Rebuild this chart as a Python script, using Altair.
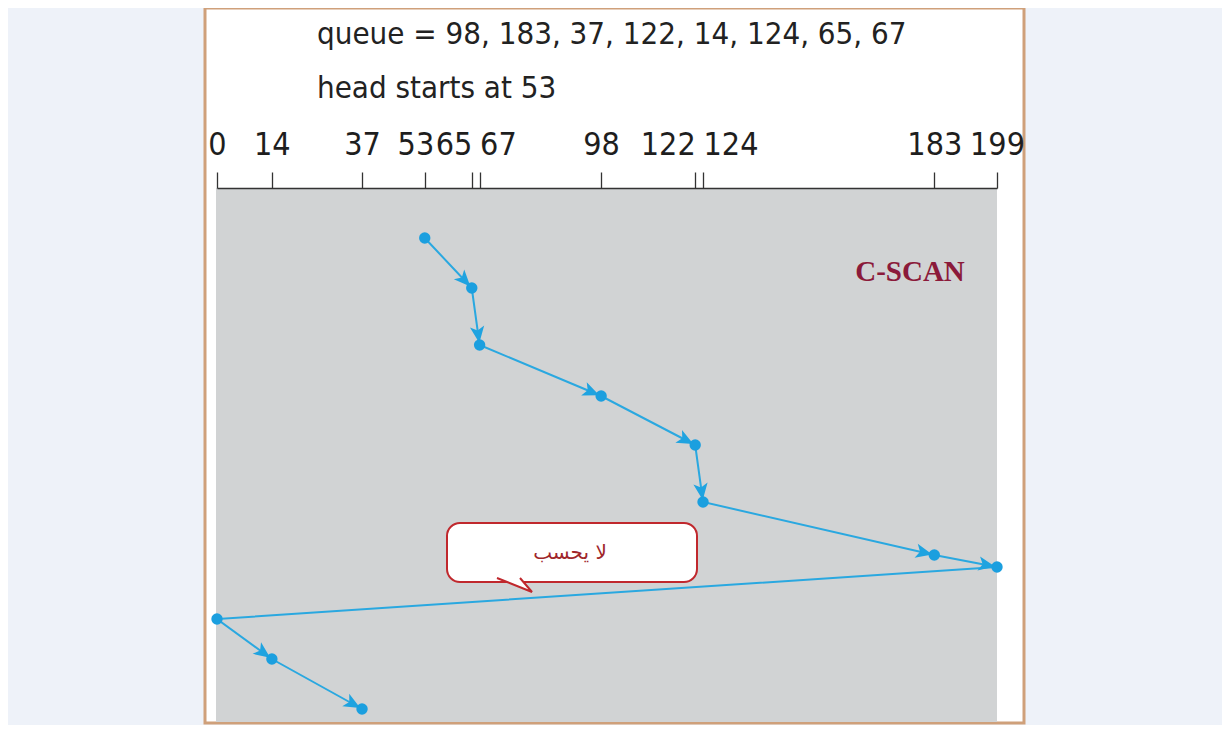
import math
import altair as alt
import pandas as pd

# ---- data ----
queue = [98, 183, 37, 122, 14, 124, 65, 67]
head_start = 53
visit_order = [53, 65, 67, 98, 122, 124, 183, 199, 0, 14, 37]
visit_time = [50, 100, 157, 208, 257, 314, 367, 379, 431, 471, 521]
arrow_on_segment = [1, 1, 1, 1, 1, 1, 1, 0, 1, 1]
tick_values = [0, 14, 37, 53, 65, 67, 98, 122, 124, 183, 199]
right_aligned_ticks = [53, 65, 122]
left_aligned_ticks = [67, 124]
algo_label = "C-SCAN"
note_label = "لا يحسب"

W, H = 780, 537
XMAX, YMAX = 199, 537

path_df = pd.DataFrame({"cyl": visit_order, "t": visit_time, "step": list(range(len(visit_order)))})

rows = []
for i in range(1, len(visit_order)):
    if not arrow_on_segment[i - 1]:
        continue
    x1, x2 = visit_order[i - 1], visit_order[i]
    t1, t2 = visit_time[i - 1], visit_time[i]
    dxp = (x2 - x1) * W / XMAX
    dyp = (t2 - t1) * H / YMAX
    L = math.hypot(dxp, dyp)
    ux, uy = dxp / L, dyp / L
    back = 11
    rows.append({
        "cyl": x2 - ux * back * XMAX / W,
        "t": t2 - uy * back * YMAX / H,
        "angle": math.degrees(math.atan2(dxp, -dyp)) % 360,
    })
arrow_df = pd.DataFrame(rows)

xscale = alt.Scale(domain=[0, XMAX], nice=False, zero=False)
yscale = alt.Scale(domain=[0, YMAX], reverse=True, nice=False)

FONT_NARROW = "Liberation Sans Narrow, DejaVu Sans Condensed, Arial Narrow, sans-serif"

ra = " || ".join(f"datum.value == {v}" for v in right_aligned_ticks)
la = " || ".join(f"datum.value == {v}" for v in left_aligned_ticks)

xaxis = alt.Axis(
    orient="top", values=tick_values, title=None, grid=False,
    tickSize=16, tickWidth=1.3, tickColor="#333333",
    domainColor="#333333", domainWidth=1.6,
    labelFont=FONT_NARROW, labelFontSize=32, labelColor="#1e1e1e",
    labelPadding=11, labelOverlap=False, labelFlush=False, labelBound=False,
    labelAlign=alt.ExprRef(expr=f"({ra}) ? 'right' : (({la}) ? 'left' : 'center')"),
    labelOffset=alt.ExprRef(expr="datum.value == 53 ? 9 : 0"),
    zindex=1,
)

one = pd.DataFrame({"k": [0]})

frame = alt.Chart(one).mark_rect(fill="white", stroke="#CFA07A", strokeWidth=3).encode(
    x=alt.value(-12), x2=alt.value(807), y=alt.value(-180), y2=alt.value(535)
)
gray = alt.Chart(one).mark_rect(fill="#D1D3D4").encode(
    x=alt.value(-1), x2=alt.value(780), y=alt.value(0), y2=alt.value(534)
)

line = alt.Chart(path_df).mark_line(color="#2AA8E0", strokeWidth=2).encode(
    x=alt.X("cyl:Q", scale=xscale, axis=xaxis),
    y=alt.Y("t:Q", scale=yscale, axis=None),
    order="step:Q",
)

arrows = alt.Chart(arrow_df).mark_point(
    shape="M 0 -1 L 0.8 0.85 L 0 0.4 L -0.8 0.85 Z",
    filled=True, color="#1FA3E0", size=320, opacity=1,
).encode(
    x=alt.X("cyl:Q", scale=xscale),
    y=alt.Y("t:Q", scale=yscale),
    angle=alt.Angle("angle:Q", scale=None),
)

dots = alt.Chart(path_df).mark_circle(color="#1B9FDF", size=130, opacity=1).encode(
    x=alt.X("cyl:Q", scale=xscale),
    y=alt.Y("t:Q", scale=yscale),
)

queue_text = alt.Chart(one).mark_text(
    text="queue = " + ", ".join(str(v) for v in queue),
    font=FONT_NARROW, fontSize=31, color="#222222", align="left", baseline="middle",
).encode(x=alt.value(100), y=alt.value(-153))

head_text = alt.Chart(one).mark_text(
    text=f"head starts at {head_start}",
    font=FONT_NARROW, fontSize=31, color="#222222", align="left", baseline="middle",
).encode(x=alt.value(100), y=alt.value(-99))

algo_text = alt.Chart(one).mark_text(
    text=algo_label, font="Liberation Serif, Times New Roman, serif", fontSize=29,
    fontWeight="bold", color="#8B1A3A", align="center", baseline="middle",
).encode(x=alt.value(693), y=alt.value(84))

bubble = alt.Chart(one).mark_rect(
    fill="white", stroke="#C0282D", strokeWidth=2, cornerRadius=13
).encode(x=alt.value(230), x2=alt.value(480), y=alt.value(335), y2=alt.value(394))

tail = alt.Chart(one).mark_point(
    shape="M -2 -0.8 L 1.5 0.6 L 0.3 -0.8", fill="white", fillOpacity=1,
    stroke="#C0282D", strokeWidth=2, size=400, opacity=1, filled=False,
).encode(x=alt.value(300), y=alt.value(398))

note_text = alt.Chart(one).mark_text(
    text=note_label, font="DejaVu Sans, Noto Sans, sans-serif", fontSize=20,
    color="#A0262A", align="center", baseline="middle",
).encode(x=alt.value(353), y=alt.value(365))

chart = alt.layer(
    frame, gray, line, arrows, dots, queue_text, head_text, algo_text, bubble, tail, note_text
).properties(
    width=W, height=H,
    autosize=alt.AutoSizeParams(type="none"),
    padding={"left": 209, "top": 180, "right": 225, "bottom": 0},
    background="#EEF2F9",
).configure_view(stroke=None)

chart.save("out.html", embed_options={"renderer": "svg", "actions": False})
